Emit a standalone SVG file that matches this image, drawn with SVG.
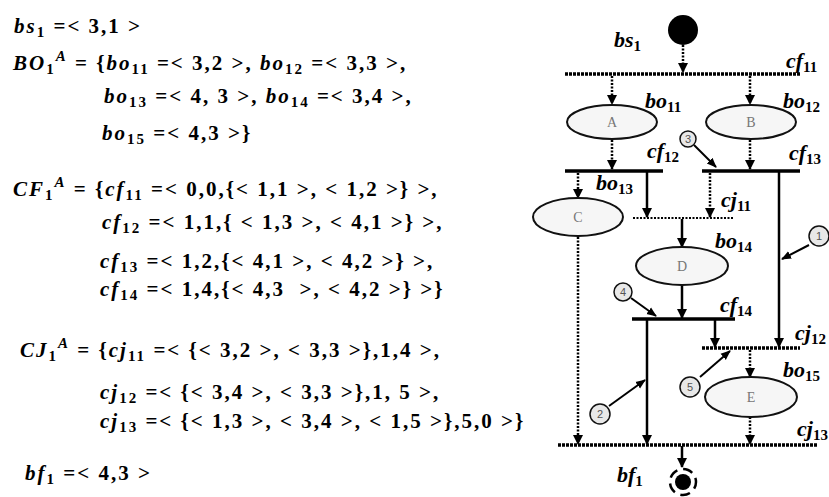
<svg xmlns="http://www.w3.org/2000/svg" width="829" height="497" viewBox="0 0 829 497">
<defs>
<style>
.t{font-family:"Liberation Serif","Times New Roman",serif;font-size:21px;fill:#000;font-weight:bold;letter-spacing:2px}
.i{font-style:italic}
.s{font-size:15px}
.lbl{font-family:"Liberation Serif","Times New Roman",serif;font-size:22px;font-style:italic;font-weight:bold;fill:#000}
.nd{fill:#f6f6f6;stroke:#111;stroke-width:2}
.nt{font-family:"Liberation Serif","Times New Roman",serif;font-size:14px;fill:#777;text-anchor:middle}
.bar{stroke:#000;stroke-width:3.5}
.hbar{stroke:#000;stroke-width:3.5;stroke-dasharray:3 1}
.dbar{stroke:#000;stroke-width:2;stroke-dasharray:2 1.5}
.sol{stroke:#000;stroke-width:2.5;fill:none}
.dot{stroke:#000;stroke-width:2.5;stroke-dasharray:2 1.5;fill:none}
.pt{fill:#e8e8e8;stroke:#111;stroke-width:1.5}
.ptx{font-family:"Liberation Sans",Arial,sans-serif;font-size:11px;fill:#555;text-anchor:middle}
.cl{stroke:#000;stroke-width:2;fill:none}
</style>
<marker id="ah" viewBox="0 0 10 10" refX="9" refY="5" markerWidth="4" markerHeight="4" orient="auto-start-reverse" markerUnits="strokeWidth">
<path d="M0,0 L10,5 L0,10 z" fill="#000"/>
</marker>
<marker id="ah2" viewBox="0 0 10 10" refX="9" refY="5" markerWidth="5" markerHeight="5" orient="auto" markerUnits="strokeWidth">
<path d="M0,1 L10,5 L0,9 z" fill="#000"/>
</marker>
</defs>
<rect width="829" height="497" fill="#fff"/>

<g id="formulas">
<text class="t" x="14" y="33"><tspan class="i">bs</tspan><tspan class="s" dy="4">1</tspan><tspan dy="-4"> =&lt; 3,1 &gt;</tspan></text>
<text class="t" x="13" y="70"><tspan class="i">BO</tspan><tspan class="s" dy="4">1</tspan><tspan class="s i" dy="-13">A</tspan><tspan dy="9"> = {</tspan><tspan class="i">bo</tspan><tspan class="s" dy="4">11</tspan><tspan dy="-4"> =&lt; 3,2 &gt;, </tspan><tspan class="i">bo</tspan><tspan class="s" dy="4">12</tspan><tspan dy="-4"> =&lt; 3,3 &gt;,</tspan></text>
<text class="t" x="104" y="103"><tspan class="i">bo</tspan><tspan class="s" dy="4">13</tspan><tspan dy="-4"> =&lt; 4, 3 &gt;, </tspan><tspan class="i">bo</tspan><tspan class="s" dy="4">14</tspan><tspan dy="-4"> =&lt; 3,4 &gt;,</tspan></text>
<text class="t" x="102" y="140"><tspan class="i">bo</tspan><tspan class="s" dy="4">15</tspan><tspan dy="-4"> =&lt; 4,3 &gt;}</tspan></text>
<text class="t" x="13" y="196"><tspan class="i">CF</tspan><tspan class="s" dy="4">1</tspan><tspan class="s i" dy="-13">A</tspan><tspan dy="9"> = {</tspan><tspan class="i">cf</tspan><tspan class="s" dy="4">11</tspan><tspan dy="-4"> =&lt; 0,0,{&lt; 1,1 &gt;, &lt; 1,2 &gt;} &gt;,</tspan></text>
<text class="t" x="102" y="229"><tspan class="i">cf</tspan><tspan class="s" dy="4">12</tspan><tspan dy="-4"> =&lt; 1,1,{ &lt; 1,3 &gt;, &lt; 4,1 &gt;} &gt;,</tspan></text>
<text class="t" x="100" y="268"><tspan class="i">cf</tspan><tspan class="s" dy="4">13</tspan><tspan dy="-4"> =&lt; 1,2,{&lt; 4,1 &gt;, &lt; 4,2 &gt;} &gt;,</tspan></text>
<text class="t" x="100" y="296"><tspan class="i">cf</tspan><tspan class="s" dy="4">14</tspan><tspan dy="-4"> =&lt; 1,4,{&lt; 4,3 &#160;&gt;, &lt; 4,2 &gt;} &gt;}</tspan></text>
<text class="t" x="20" y="357"><tspan class="i">CJ</tspan><tspan class="s" dy="4">1</tspan><tspan class="s i" dy="-13">A</tspan><tspan dy="9"> = {</tspan><tspan class="i">cj</tspan><tspan class="s" dy="4">11</tspan><tspan dy="-4"> =&lt; {&lt; 3,2 &gt;, &lt; 3,3 &gt;},1,4 &gt;,</tspan></text>
<text class="t" x="100" y="399"><tspan class="i">cj</tspan><tspan class="s" dy="4">12</tspan><tspan dy="-4"> =&lt; {&lt; 3,4 &gt;, &lt; 3,3 &gt;},1, 5 &gt;,</tspan></text>
<text class="t" x="100" y="428"><tspan class="i">cj</tspan><tspan class="s" dy="4">13</tspan><tspan dy="-4"> =&lt; {&lt; 1,3 &gt;, &lt; 3,4 &gt;, &lt; 1,5 &gt;},5,0 &gt;}</tspan></text>
<text class="t" x="25" y="480"><tspan class="i">bf</tspan><tspan class="s" dy="4">1</tspan><tspan dy="-4"> =&lt; 4,3 &gt;</tspan></text>
</g>

<g id="connectors">
<line class="hbar" x1="565" y1="74" x2="800" y2="74"/>
<line class="bar" x1="565" y1="171" x2="663" y2="171"/>
<line class="bar" x1="702" y1="171" x2="800" y2="171"/>
<line class="dbar" x1="633" y1="218" x2="733" y2="218"/>
<line class="bar" x1="632" y1="319" x2="735" y2="319"/>
<line class="hbar" x1="702" y1="348" x2="800" y2="348"/>
<line class="hbar" x1="558" y1="445" x2="818" y2="445"/>

<line class="dot" x1="683" y1="45" x2="683" y2="72" marker-end="url(#ah)"/>
<line class="dot" x1="612" y1="76" x2="612" y2="104" marker-end="url(#ah)"/>
<line class="dot" x1="750" y1="76" x2="750" y2="104" marker-end="url(#ah)"/>
<line class="dot" x1="612" y1="140" x2="612" y2="169" marker-end="url(#ah)"/>
<line class="dot" x1="750" y1="140" x2="750" y2="169" marker-end="url(#ah)"/>
<line class="dot" x1="578" y1="173" x2="578" y2="198" marker-end="url(#ah)"/>
<line class="sol" x1="647" y1="171" x2="647" y2="217" marker-end="url(#ah)"/>
<line class="dot" x1="710" y1="173" x2="710" y2="217" marker-end="url(#ah)"/>
<line class="sol" x1="779" y1="171" x2="779" y2="347" marker-end="url(#ah)"/>
<line class="sol" x1="682" y1="219" x2="682" y2="247" marker-end="url(#ah)"/>
<line class="sol" x1="682" y1="285" x2="682" y2="318" marker-end="url(#ah)"/>
<line class="sol" x1="647" y1="319" x2="647" y2="444" marker-end="url(#ah)"/>
<line class="sol" x1="715" y1="319" x2="715" y2="347" marker-end="url(#ah)"/>
<line class="dot" x1="750" y1="350" x2="750" y2="377" marker-end="url(#ah)"/>
<line class="dot" x1="750" y1="417" x2="750" y2="444" marker-end="url(#ah)"/>
<line class="dot" x1="578" y1="237" x2="578" y2="444" marker-end="url(#ah)"/>
<line class="sol" x1="682" y1="446" x2="682" y2="467" marker-end="url(#ah)"/>

<line class="cl" x1="694" y1="145" x2="716" y2="167" marker-end="url(#ah2)"/>
<line class="cl" x1="631" y1="298" x2="656" y2="316" marker-end="url(#ah2)"/>
<line class="cl" x1="809" y1="245" x2="782" y2="259" marker-end="url(#ah2)"/>
<line class="cl" x1="700" y1="377" x2="730" y2="351" marker-end="url(#ah2)"/>
<line class="cl" x1="609" y1="406" x2="645" y2="380" marker-end="url(#ah2)"/>
</g>

<g id="start">
<circle cx="683" cy="30" r="15" fill="#000"/>
<text class="lbl" x="614" y="47">bs<tspan class="s" dy="4" font-style="normal">1</tspan></text>
</g>
<g id="cf11"><text class="lbl" x="786" y="68">cf<tspan class="s" dy="4" font-style="normal">11</tspan></text></g>
<g id="nodeA"><ellipse class="nd" cx="612" cy="122" rx="45" ry="17"/><text class="nt" x="612" y="127">A</text>
<text class="lbl" x="645" y="108">bo<tspan class="s" dy="4" font-style="normal">11</tspan></text></g>
<g id="nodeB"><ellipse class="nd" cx="751" cy="122" rx="45" ry="17"/><text class="nt" x="751" y="127">B</text>
<text class="lbl" x="783" y="108">bo<tspan class="s" dy="4" font-style="normal">12</tspan></text></g>
<g id="cf12"><text class="lbl" x="647" y="158">cf<tspan class="s" dy="4" font-style="normal">12</tspan></text></g>
<g id="cf13"><text class="lbl" x="789" y="160">cf<tspan class="s" dy="4" font-style="normal">13</tspan></text></g>
<g id="nodeC"><ellipse class="nd" cx="578" cy="217" rx="45" ry="19"/><text class="nt" x="578" y="222">C</text>
<text class="lbl" x="596" y="190">bo<tspan class="s" dy="4" font-style="normal">13</tspan></text></g>
<g id="cj11"><text class="lbl" x="721" y="207">cj<tspan class="s" dy="4" font-style="normal">11</tspan></text></g>
<g id="nodeD"><ellipse class="nd" cx="682" cy="266" rx="46" ry="19"/><text class="nt" x="682" y="271">D</text>
<text class="lbl" x="715" y="248">bo<tspan class="s" dy="4" font-style="normal">14</tspan></text></g>
<g id="cf14"><text class="lbl" x="720" y="312">cf<tspan class="s" dy="4" font-style="normal">14</tspan></text></g>
<g id="cj12"><text class="lbl" x="795" y="340">cj<tspan class="s" dy="4" font-style="normal">12</tspan></text></g>
<g id="nodeE"><ellipse class="nd" cx="751" cy="397" rx="46" ry="20"/><text class="nt" x="751" y="402">E</text>
<text class="lbl" x="783" y="377">bo<tspan class="s" dy="4" font-style="normal">15</tspan></text></g>
<g id="cj13"><text class="lbl" x="797" y="436">cj<tspan class="s" dy="4" font-style="normal">13</tspan></text></g>
<g id="end">
<circle cx="683" cy="482" r="8" fill="#000"/>
<circle cx="683" cy="482" r="13" fill="none" stroke="#000" stroke-width="2.5" stroke-dasharray="10 6" stroke-dashoffset="3"/>
<text class="lbl" x="617" y="482">bf<tspan class="s" dy="4" font-style="normal">1</tspan></text>
</g>
<g id="p1"><circle class="pt" cx="819" cy="236" r="10"/><text class="ptx" x="819" y="240">1</text></g>
<g id="p2"><circle class="pt" cx="600" cy="414" r="10"/><text class="ptx" x="600" y="418">2</text></g>
<g id="p3"><circle class="pt" cx="688" cy="139" r="8"/><text class="ptx" x="688" y="143">3</text></g>
<g id="p4"><circle class="pt" cx="623" cy="292" r="9"/><text class="ptx" x="623" y="296">4</text></g>
<g id="p5"><circle class="pt" cx="690" cy="387" r="10"/><text class="ptx" x="690" y="391">5</text></g>
</svg>
